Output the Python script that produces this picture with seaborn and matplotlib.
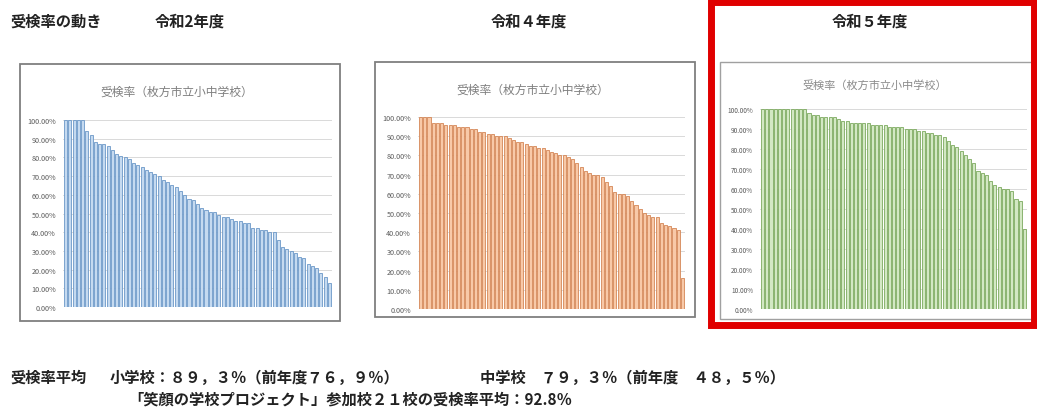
import numpy as np
import pandas as pd
import matplotlib
matplotlib.use("Agg")
import matplotlib.pyplot as plt
from matplotlib.patches import Rectangle
from matplotlib.ticker import FuncFormatter
import seaborn as sns

sns.set_theme(style="white")
plt.rcParams['font.family'] = ['Noto Sans CJK JP', 'DejaVu Sans']

# ---- data (受検率, %) ----
r2_values = [100, 100, 100, 100, 100, 94, 92, 88, 87, 87, 86, 84, 82, 81, 80, 79,
             77, 76, 75, 73, 72, 71, 70, 68, 67, 65, 64, 62, 60, 58, 57, 55, 53,
             52, 51, 51, 49, 48, 48, 47, 46, 46, 45, 45, 42, 42, 41, 41, 40, 40,
             36, 32, 31, 30, 29, 27, 26, 23, 22, 21, 18, 16, 13]
r4_values = [100, 100, 100, 97, 97, 97, 96, 96, 96, 95, 95, 95, 94, 94, 92, 92,
             91, 91, 90, 90, 90, 89, 88, 87, 87, 86, 85, 85, 84, 84, 83, 82, 81,
             80, 80, 79, 78, 76, 74, 72, 71, 70, 70, 69, 66, 64, 61, 60, 60, 59,
             56, 54, 52, 50, 49, 48, 48, 45, 44, 43, 42, 41, 16]
r5_values = [100, 100, 100, 100, 100, 100, 100, 100, 100, 100, 100, 98, 97, 97,
             96, 96, 96, 96, 95, 94, 94, 93, 93, 93, 93, 93, 92, 92, 92, 92, 91,
             91, 91, 91, 90, 90, 90, 89, 89, 88, 88, 87, 87, 86, 84, 82, 81, 79,
             77, 75, 73, 69, 68, 67, 64, 62, 61, 60, 60, 59, 55, 54, 40]
y_ticks = [0, 10, 20, 30, 40, 50, 60, 70, 80, 90, 100]

header_label = "受検率の動き"
year_labels = ["令和2年度", "令和４年度", "令和５年度"]
chart_title = "受検率（枚方市立小中学校）"
summary_head = "受検率平均"
summary_elem = "小学校：８９，３％（前年度７６，９％）"
summary_jhs = "中学校　７９，３％（前年度　４８，５％）"
summary_note = "「笑顔の学校プロジェクト」参加校２１校の受検率平均：92.8％"

W, H = 1037, 410
fig = plt.figure(figsize=(W / 100, H / 100), dpi=100)
fig.patch.set_facecolor("white")


def fx(px):
    return px / W


def fy(py):
    return 1 - py / H


def add_box(x0, y0, x1, y1, color, lw):
    fig.patches.append(Rectangle((fx(x0), fy(y1)), fx(x1) - fx(x0), fy(y0) - fy(y1),
                                 transform=fig.transFigure, fill=False,
                                 edgecolor=color, linewidth=lw, zorder=0))


def draw_chart(values, rect_px, face, edge, tick_fs):
    x0, ytop, x1, ybot = rect_px
    ax = fig.add_axes([fx(x0), fy(ybot), fx(x1) - fx(x0), fy(ytop) - fy(ybot)])
    df = pd.DataFrame({"school": np.arange(len(values)), "rate": values})
    sns.barplot(data=df, x="school", y="rate", ax=ax, color=face, saturation=1,
                width=0.72, edgecolor=edge, linewidth=0.6, zorder=3)
    ax.set_ylim(0, 100)
    ax.set_xlim(-0.6, len(values) - 0.4)
    ax.set_yticks(y_ticks)
    ax.yaxis.set_major_formatter(FuncFormatter(lambda v, p: f"{v:.2f}%"))
    ax.tick_params(axis="y", labelsize=tick_fs, colors="#595959", length=0, pad=5)
    ax.set_xticks([])
    ax.set_xlabel("")
    ax.set_ylabel("")
    ax.grid(axis="y", color="#d9d9d9", linewidth=0.7, zorder=0)
    ax.set_axisbelow(True)
    for s in ax.spines.values():
        s.set_visible(False)
    ax.set_facecolor("none")
    return ax


# boxes
add_box(20, 65, 340, 322, "#7f7f7f", 1.3)
add_box(375, 63, 695, 318, "#7f7f7f", 1.3)
add_box(720, 63, 1033, 320, "#a0a0a0", 1.0)
add_box(711, 3, 1034, 326, "#e00000", 5)

draw_chart(r2_values, (63, 121, 332, 308), "#c5daf0", "#6b98c8", 5.2)
draw_chart(r4_values, (418, 118, 685, 310), "#f8c9a8", "#d48656", 5.2)
draw_chart(r5_values, (760, 110, 1027, 310), "#d3e8c4", "#7caa5e", 4.6)

# chart titles
fig.text(fx(177), fy(92), chart_title, fontsize=8.5, color="#7f7f7f", ha="center", va="center")
fig.text(fx(533), fy(90), chart_title, fontsize=8.5, color="#7f7f7f", ha="center", va="center")
fig.text(fx(875), fy(85), chart_title, fontsize=8.0, color="#8a8a8a", ha="center", va="center")

# header row
hdr = dict(fontsize=11, weight="bold", color="#222222", va="center")
fig.text(fx(10), fy(22), header_label, ha="left", **hdr)
fig.text(fx(155), fy(22), year_labels[0], ha="left", **hdr)
fig.text(fx(529), fy(22), year_labels[1], ha="center", **hdr)
fig.text(fx(870), fy(22), year_labels[2], ha="center", **hdr)

# summary
fig.text(fx(10), fy(378), summary_head, ha="left", **hdr)
fig.text(fx(110), fy(378), summary_elem, ha="left", **hdr)
fig.text(fx(480), fy(378), summary_jhs, ha="left", **hdr)
fig.text(fx(128), fy(400), summary_note, ha="left", **hdr)

fig.savefig("out.png", dpi=100, facecolor="white")
